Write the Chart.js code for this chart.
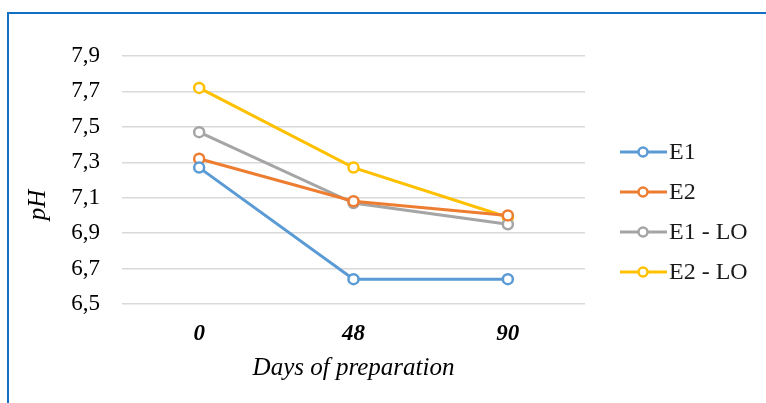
<!DOCTYPE html>
<html>
<head>
<meta charset="utf-8">
<script src="https://cdn.jsdelivr.net/npm/chart.js@4.4.1/dist/chart.umd.min.js"></script>
<style>
  html, body { margin: 0; padding: 0; background: #ffffff; overflow: hidden; }
  #frame {
    position: absolute; left: 7px; top: 12px; width: 900px; height: 500px;
    border-left: 2px solid #1170C4; border-top: 2px solid #1170C4;
  }
  #wrap { position: absolute; left: 0; top: 0; width: 766px; height: 403px; }
</style>
</head>
<body>
<div id="frame"></div>
<div id="wrap"><canvas id="c" width="766" height="403"></canvas></div>
<script>
// pH during preparation
const days = ['0', '48', '90'];
const e1   = [7.27, 6.64, 6.64];
const e2   = [7.32, 7.08, 7.00];
const e1Lo = [7.47, 7.07, 6.95];
const e2Lo = [7.72, 7.27, 6.99];
const seriesNames = ['E1', 'E2', 'E1 - LO', 'E2 - LO'];
const seriesColors = ['#5B9BD5', '#ED7D31', '#A5A5A5', '#FFC000'];
const yTicks = [6.5, 6.7, 6.9, 7.1, 7.3, 7.5, 7.7, 7.9];
const yTitle = 'pH';

const serif = "'Liberation Serif', 'Times New Roman', serif";

function makeSet(label, data, color) {
  return {
    label, data,
    borderColor: color,
    backgroundColor: color,
    borderWidth: 3,
    pointRadius: 5,
    pointBorderWidth: 2.5,
    pointBackgroundColor: '#ffffff',
    pointBorderColor: color,
    tension: 0
  };
}

// Legend on the right: short line with a hollow circle, then the name
const sideLegend = {
  id: 'sideLegend',
  afterDraw(chart) {
    const ctx = chart.ctx;
    const area = chart.chartArea;
    const x0 = area.right + 35;
    const rowH = 40;
    const yStart = 152;
    ctx.save();
    chart.data.datasets.forEach((ds, i) => {
      const y = yStart + i * rowH;
      ctx.strokeStyle = ds.borderColor;
      ctx.lineWidth = 3;
      ctx.beginPath();
      ctx.moveTo(x0, y);
      ctx.lineTo(x0 + 47, y);
      ctx.stroke();
      ctx.beginPath();
      ctx.arc(x0 + 23, y, 4.5, 0, Math.PI * 2);
      ctx.fillStyle = '#ffffff';
      ctx.fill();
      ctx.lineWidth = 2.5;
      ctx.stroke();
      ctx.fillStyle = '#1a1a1a';
      ctx.font = '24px ' + serif;
      ctx.textBaseline = 'middle';
      ctx.textAlign = 'left';
      ctx.fillText(ds.label, x0 + 49, y + 1);
    });
    ctx.restore();
  }
};

// Rotated value-axis title, set a little below the plot's middle
const sideTitle = {
  id: 'sideTitle',
  afterDraw(chart) {
    const ctx = chart.ctx;
    const area = chart.chartArea;
    ctx.save();
    ctx.translate(area.left - 84, (area.top + area.bottom) / 2 + 25);
    ctx.rotate(-Math.PI / 2);
    ctx.fillStyle = '#000000';
    ctx.font = 'italic 25px ' + serif;
    ctx.textAlign = 'center';
    ctx.textBaseline = 'middle';
    ctx.fillText(yTitle, 0, 0);
    ctx.restore();
  }
};

new Chart(document.getElementById('c'), {
  type: 'line',
  data: {
    labels: days,
    datasets: [
      makeSet(seriesNames[0], e1, seriesColors[0]),
      makeSet(seriesNames[1], e2, seriesColors[1]),
      makeSet(seriesNames[2], e1Lo, seriesColors[2]),
      makeSet(seriesNames[3], e2Lo, seriesColors[3])
    ]
  },
  options: {
    responsive: false,
    animation: false,
    layout: { padding: { left: 18, right: 181, top: 56, bottom: 14 } },
    plugins: {
      legend: { display: false },
      tooltip: { enabled: false }
    },
    scales: {
      x: {
        offset: true,
        grid: { display: false },
        border: { display: false },
        ticks: {
          color: '#000000',
          padding: 8,
          font: { family: serif, size: 23, style: 'italic', weight: 'bold' }
        },
        title: {
          display: true,
          text: 'Days of preparation',
          color: '#000000',
          padding: { top: 4, bottom: 6 },
          font: { family: serif, size: 25, style: 'italic' }
        },
        afterFit(scale) { scale.height = 85; }
      },
      y: {
        min: 6.5,
        max: 7.9,
        afterBuildTicks(scale) { scale.ticks = yTicks.map(v => ({ value: v })); },
        grid: { color: '#D9D9D9', lineWidth: 1.5, drawTicks: false },
        border: { display: false },
        ticks: {
          color: '#000000',
          padding: 22,
          font: { family: serif, size: 23 },
          callback: v => Number(v).toFixed(1).replace('.', ',')
        },
        afterFit(scale) { scale.width = 104; }
      }
    }
  },
  plugins: [sideLegend, sideTitle]
});
</script>
</body>
</html>
